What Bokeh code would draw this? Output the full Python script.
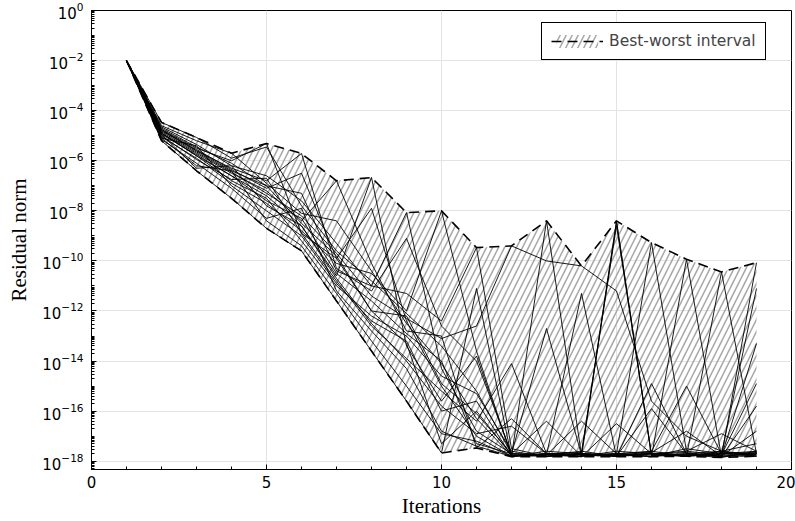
import numpy as np
from bokeh.plotting import figure
from bokeh.models import Range1d, FixedTicker, Legend, LegendItem
from bokeh.embed import file_html
from bokeh.resources import INLINE

iterations = list(range(1, 20))

# log10 of the residual norm for each run (iterations 1..19)
run01 = [-2, -4.47, -5.07, -5.9, -5.45, -7.8, -9.6, -10.8, -12.1, -13.4, -15.2, -17.7, -17.75, -17.6, -17.8, -17.7, -17.65, -17.8, -17.7]
run02 = [-2, -4.6, -5.2, -5.7, -6.9, -8.1, -8.4, -10.4, -12.5, -14.1, -16.3, -17.78, -17.7, -17.65, -8.6, -17.75, -17.7, -17.6, -17.75]
run03 = [-2, -4.75, -5.5, -6.0, -5.31, -8.9, -9.9, -7.9, -12.4, -15.0, -17.0, -17.8, -17.6, -17.7, -17.75, -17.8, -17.5, -17.7, -17.8]
run04 = [-2, -4.8, -5.6, -6.3, -6.8, -5.71, -10.3, -11.2, -9.1, -12.6, -14.0, -17.7, -17.75, -16.4, -17.7, -17.8, -17.75, -17.7, -17.6]
run05 = [-2, -4.9, -5.7, -6.5, -7.2, -8.4, -6.8, -10.1, -12.8, -13.0, -17.47, -16.3, -17.7, -17.8, -17.6, -17.7, -17.8, -17.65, -17.7]
run06 = [-2, -4.95, -5.75, -6.6, -7.4, -8.6, -10.6, -6.67, -13.4, -15.6, -13.8, -17.75, -17.8, -17.7, -17.8, -15.9, -17.7, -17.8, -17.8]
run07 = [-2, -4.65, -5.35, -6.2, -6.6, -7.6, -9.3, -11.0, -8.07, -14.3, -16.8, -17.7, -12.7, -17.75, -17.7, -17.6, -17.8, -17.7, -17.65]
run08 = [-2, -5.05, -5.9, -6.9, -7.7, -8.8, -10.1, -10.5, -12.0, -8.0, -13.6, -17.8, -17.7, -17.8, -17.7, -17.65, -16.8, -17.8, -17.7]
run09 = [-2, -4.7, -5.45, -6.1, -7.0, -7.3, -10.4, -11.0, -11.3, -12.4, -9.47, -17.5, -17.8, -17.7, -17.75, -17.7, -17.8, -17.6, -17.8]
run10 = [-2, -5.2, -6.4, -7.5, -8.7, -9.6, -11.6, -13.6, -15.6, -17.67, -11.1, -17.82, -17.7, -17.75, -17.8, -17.7, -17.75, -17.85, -17.6]
run11 = [-2, -4.85, -5.65, -6.45, -7.3, -8.2, -9.7, -11.4, -12.3, -13.1, -12.6, -9.4, -10.0, -10.2, -11.2, -15.6, -17.0, -17.6, -17.3]
run12 = [-2, -5.1, -5.4, -7.0, -8.0, -9.0, -10.9, -12.4, -13.2, -16.0, -15.6, -17.8, -8.4, -17.75, -17.8, -17.7, -17.6, -17.75, -14.9]
run13 = [-2, -4.9, -5.8, -6.8, -7.5, -9.2, -11.0, -12.2, -13.0, -14.6, -15.3, -17.6, -17.82, -17.7, -8.4, -17.8, -17.7, -17.8, -13.3]
run14 = [-2, -5.0, -5.95, -6.75, -6.7, -8.9, -10.8, -12.6, -13.9, -15.2, -16.4, -14.1, -17.7, -17.82, -8.45, -17.75, -17.8, -17.7, -17.75]
run15 = [-2, -4.8, -5.55, -6.35, -7.1, -6.5, -9.9, -12.0, -12.2, -14.9, -16.1, -17.7, -17.75, -11.3, -17.82, -14.9, -17.7, -17.8, -16.8]
run16 = [-2, -5.15, -6.1, -7.1, -8.3, -7.9, -11.2, -12.8, -14.3, -16.8, -17.4, -17.8, -17.7, -17.75, -17.7, -9.27, -17.6, -16.9, -17.6]
run17 = [-2, -4.75, -5.6, -6.4, -7.0, -8.5, -9.8, -12.0, -13.3, -17.3, -16.0, -17.75, -17.8, -17.7, -17.75, -17.82, -9.93, -17.82, -15.8]
run18 = [-2, -4.9, -5.8, -6.6, -7.6, -8.3, -10.5, -11.6, -12.9, -14.0, -17.3, -17.7, -16.4, -17.8, -17.75, -17.7, -17.8, -10.44, -17.7]
run19 = [-2, -5.1, -6.2, -6.4, -8.4, -9.4, -11.3, -13.2, -15.0, -16.9, -17.2, -17.8, -17.75, -17.82, -16.5, -17.7, -17.75, -17.8, -10.07]
run20 = [-2, -4.95, -6.3, -6.2, -7.8, -8.6, -10.7, -12.5, -14.0, -15.8, -16.9, -16.6, -17.7, -17.7, -17.8, -17.6, -15.0, -17.7, -11.1]

runs_log10 = [run01, run02, run03, run04, run05, run06, run07, run08, run09, run10,
              run11, run12, run13, run14, run15, run16, run17, run18, run19, run20]

x_ticks = [0, 5, 10, 15, 20]
y_tick_exponents = list(range(0, -19, -2))
legend_label = "Best-worst interval"
x_title = "Iterations"
y_title = "Residual norm"

runs = [np.power(10.0, np.array(r)) for r in runs_log10]
stack = np.vstack(runs)
best = stack.min(axis=0)
worst = stack.max(axis=0)

p = figure(width=795, height=521, output_backend="svg", toolbar_location=None,
           y_axis_type="log", x_range=Range1d(0, 20), y_range=Range1d(10 ** -18.33, 1.0),
           min_border_left=91, min_border_right=4, min_border_top=10, min_border_bottom=52)

band = p.varea(x=iterations, y1=best, y2=worst, fill_alpha=0.0,
               hatch_pattern="/", hatch_color="#a6a6a6", hatch_scale=12, hatch_weight=1.5,
               hatch_alpha=1.0)

for r in runs:
    p.line(iterations, r, line_color="black", line_width=0.9)

upper = p.line(iterations, worst, line_color="black", line_width=1.6, line_dash="10 6")
lower = p.line(iterations, best, line_color="black", line_width=1.6, line_dash="10 6")

legend = Legend(items=[LegendItem(label=legend_label, renderers=[band, upper])],
                location=(450, 409))
legend.border_line_color = "black"
legend.border_line_width = 1
legend.border_line_alpha = 1
legend.background_fill_color = "white"
legend.background_fill_alpha = 1
legend.label_text_font = "DejaVu Sans"
legend.label_text_font_size = "15.5px"
legend.glyph_width = 52
legend.glyph_height = 16
legend.label_height = 16
legend.label_standoff = 6
legend.padding = 9
legend.margin = 0
legend.spacing = 0
p.add_layout(legend)

p.xaxis.ticker = FixedTicker(ticks=x_ticks, minor_ticks=list(range(0, 21)))
ymaj = [10.0 ** e for e in y_tick_exponents]
ymin = [m * 10.0 ** k for k in range(-19, 1) for m in range(1, 10)]
p.yaxis.ticker = FixedTicker(ticks=ymaj, minor_ticks=ymin)

for ax in (p.xaxis[0], p.yaxis[0]):
    ax.axis_line_color = "black"
    ax.axis_line_width = 1
    ax.major_tick_in = 5
    ax.major_tick_out = 0
    ax.minor_tick_in = 3
    ax.minor_tick_out = 0
    ax.major_tick_line_color = "black"
    ax.minor_tick_line_color = "black"
    ax.major_label_text_font = "DejaVu Sans"
    ax.major_label_text_font_size = "15px"
    ax.major_label_text_color = "black"
    ax.axis_label_text_font = "Liberation Serif"
    ax.axis_label_text_font_size = "21px"
    ax.axis_label_text_font_style = "normal"
    ax.axis_label_text_color = "black"

p.xaxis.axis_label = x_title
p.yaxis.axis_label = y_title
p.xaxis.major_label_standoff = 6
p.xaxis.axis_label_standoff = 3
p.yaxis.major_label_standoff = 8
p.yaxis.axis_label_standoff = 8

p.xgrid.grid_line_color = "#e3e3e3"
p.ygrid.grid_line_color = "#e3e3e3"
p.outline_line_color = "black"
p.outline_line_width = 1
p.outline_line_alpha = 1
p.background_fill_color = "white"
p.border_fill_color = "white"

open("out.html", "w").write(file_html(p, INLINE))
